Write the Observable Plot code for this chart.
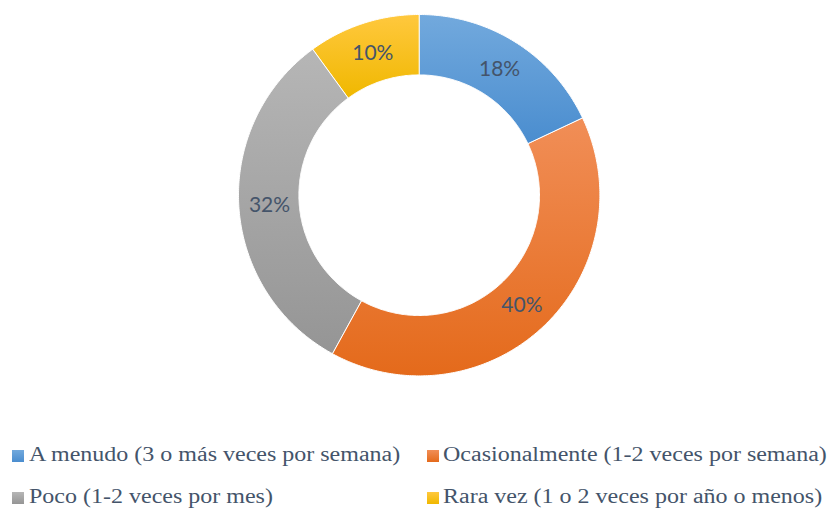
<!DOCTYPE html>
<html>
<head>
<meta charset="utf-8">
<script src="https://cdn.jsdelivr.net/npm/d3@7"></script>
<script src="https://cdn.jsdelivr.net/npm/@observablehq/plot@0.6"></script>
<style>
  body { margin: 0; background: #fff; }
  #wrap { position: relative; width: 829px; height: 511px; overflow: hidden; }
  #legend { position: absolute; left: 0; top: 430px; width: 829px; height: 81px;
    font-family: "Liberation Serif", "Times New Roman", serif; font-size: 20px; color: #44546a; }
  .item { position: absolute; white-space: nowrap; line-height: 1; transform: scaleX(1.2); transform-origin: 0 0; }
  .sw { position: absolute; width: 12px; height: 12px; }
</style>
</head>
<body>
<div id="wrap">
  <div id="chart"></div>
  <div id="legend"></div>
</div>
<script>
const categories = [
  "A menudo (3 o más veces por semana)",
  "Ocasionalmente (1-2 veces por semana)",
  "Poco (1-2 veces por mes)",
  "Rara vez (1 o 2 veces por año o menos)"
];
const values = [18, 40, 32, 10];
const labels = ["18%", "40%", "32%", "10%"];
const colorTop = ["#72a9dd", "#f18e57", "#b6b6b6", "#ffc83e"];
const colorBottom = ["#4a8dcf", "#e46a1b", "#959595", "#f0b800"];

const W = 829, H = 430;
const cx = 418.7, cy = 194.7, rOuter = 180.7, rInner = 120.3, rLabel = 150;

const total = d3.sum(values);
const polys = [];
const labelPts = [];
let acc = 0;
values.forEach((v, i) => {
  const a0 = acc / total * 2 * Math.PI;
  acc += v;
  const a1 = acc / total * 2 * Math.PI;
  const n = Math.max(8, Math.ceil((a1 - a0) / 0.01));
  const pts = [];
  for (let k = 0; k <= n; k++) {
    const a = a0 + (a1 - a0) * k / n;
    pts.push({x: cx + rOuter * Math.sin(a), y: cy - rOuter * Math.cos(a), g: i, f: `url(#grad${i})`});
  }
  for (let k = n; k >= 0; k--) {
    const a = a0 + (a1 - a0) * k / n;
    pts.push({x: cx + rInner * Math.sin(a), y: cy - rInner * Math.cos(a), g: i, f: `url(#grad${i})`});
  }
  polys.push(...pts);
  const am = (a0 + a1) / 2;
  labelPts.push({x: cx + rLabel * Math.sin(am), y: cy - rLabel * Math.cos(am), t: labels[i]});
});

const plot = Plot.plot({
  width: W, height: H,
  margin: 0,
  x: {domain: [0, W], range: [0, W], axis: null},
  y: {domain: [0, H], range: [0, H], axis: null},
  color: {type: "identity"},
  style: {background: "#fff"},
  marks: [
    Plot.line(polys, {x: "x", y: "y", z: "g", fill: "f", stroke: "#ffffff", strokeWidth: 1, curve: "linear-closed"}),
    Plot.text(labelPts, {x: "x", y: "y", text: "t", fill: "#44546a", fontSize: 21,
      fontFamily: "Lato, 'Open Sans', sans-serif", textAnchor: "middle", dy: 1})
  ]
});

const svg = d3.select(plot);
const defs = svg.insert("defs", ":first-child");
colorTop.forEach((c, i) => {
  const g = defs.append("linearGradient").attr("id", `grad${i}`)
    .attr("x1", 0).attr("y1", 0).attr("x2", 0).attr("y2", 1);
  g.append("stop").attr("offset", "0%").attr("stop-color", c);
  g.append("stop").attr("offset", "100%").attr("stop-color", colorBottom[i]);
});
document.getElementById("chart").appendChild(plot);

// legend
const legendPos = [
  {sx: 12, sy: 20, tx: 29, ty: 14},
  {sx: 427, sy: 20, tx: 443, ty: 14},
  {sx: 12, sy: 62, tx: 29, ty: 56},
  {sx: 427, sy: 62, tx: 443, ty: 56}
];
const leg = document.getElementById("legend");
categories.forEach((c, i) => {
  const p = legendPos[i];
  const sw = document.createElement("div");
  sw.className = "sw";
  sw.style.left = p.sx + "px"; sw.style.top = p.sy + "px";
  sw.style.background = `linear-gradient(${colorTop[i]}, ${colorBottom[i]})`;
  leg.appendChild(sw);
  const t = document.createElement("div");
  t.className = "item";
  t.style.left = p.tx + "px"; t.style.top = p.ty + "px";
  t.textContent = c;
  leg.appendChild(t);
});
</script>
</body>
</html>
